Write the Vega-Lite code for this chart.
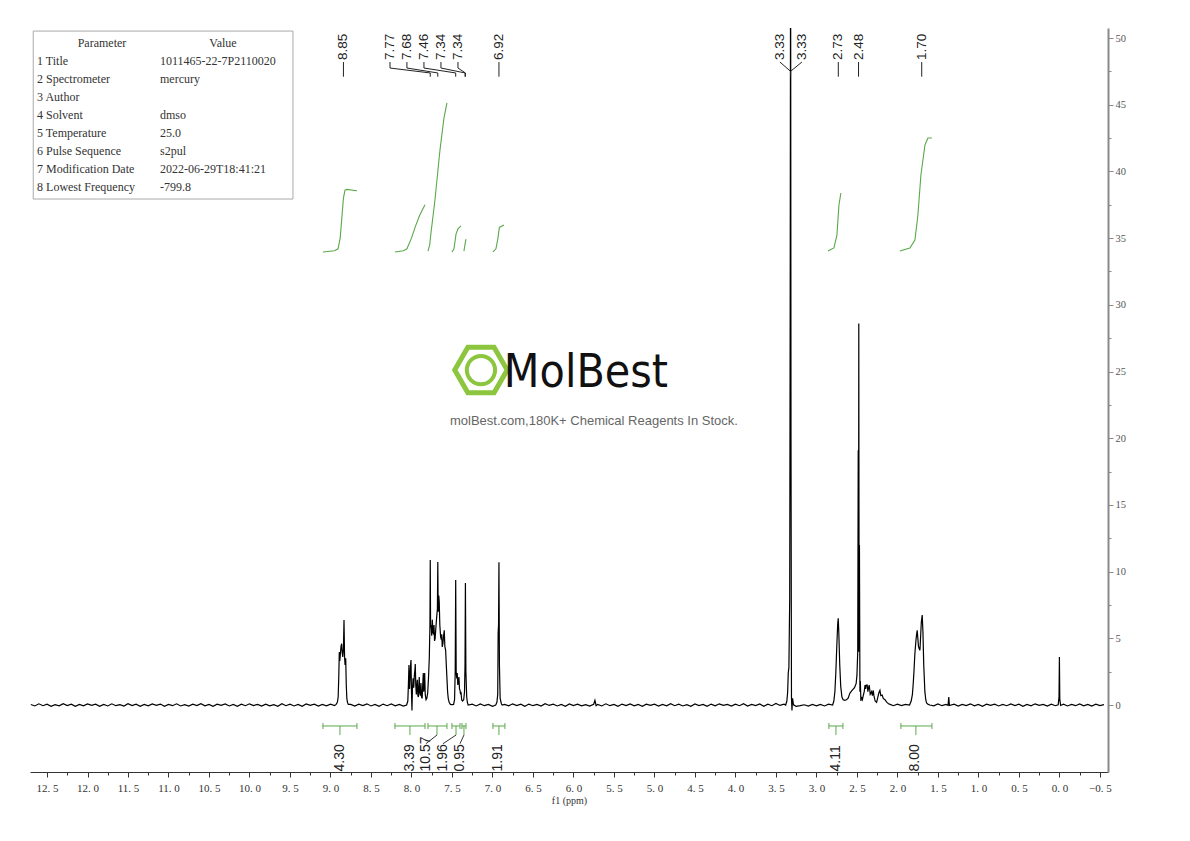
{
"$schema": "https://vega.github.io/schema/vega-lite/v6.json",
"width": 1078, "height": 744,
"autosize": {"type": "none"},
"padding": {"left": 30, "top": 28, "right": 82, "bottom": 69},
"background": "white",
"config": {"view": {"stroke": null}},
"datasets": {
"spec": [
{"x":12.70,"y":0.04},{"x":12.65,"y":-0.07},{"x":12.60,"y":0.09},{"x":12.55,"y":-0.05},{"x":12.50,"y":0.06},{"x":12.45,"y":-0.1},{"x":12.40,"y":0.03},{"x":12.35,"y":-0.06},{"x":12.30,"y":0.1},{"x":12.25,"y":-0.04},{"x":12.20,"y":0.07},{"x":12.15,"y":-0.09},{"x":12.10,"y":0.05},{"x":12.05,"y":-0.06},{"x":12.00,"y":0.08},{"x":11.95,"y":-0.03},{"x":11.90,"y":0.06},{"x":11.85,"y":-0.1},{"x":11.80,"y":0.04},{"x":11.75,"y":-0.07},{"x":11.70,"y":0.09},{"x":11.65,"y":-0.05},{"x":11.60,"y":0.03},{"x":11.55,"y":-0.08},{"x":11.50,"y":0.1},{"x":11.45,"y":-0.04},{"x":11.40,"y":0.06},{"x":11.35,"y":-0.09},{"x":11.30,"y":0.05},{"x":11.25,"y":-0.06},{"x":11.20,"y":0.08},{"x":11.15,"y":-0.02},{"x":11.10,"y":0.07},{"x":11.05,"y":-0.1},{"x":11.00,"y":0.04},{"x":10.95,"y":-0.05},{"x":10.90,"y":0.09},{"x":10.85,"y":-0.07},{"x":10.80,"y":0.03},{"x":10.75,"y":-0.08},{"x":10.70,"y":0.06},{"x":10.65,"y":-0.04},{"x":10.60,"y":0.1},{"x":10.55,"y":-0.06},{"x":10.50,"y":0.05},{"x":10.45,"y":-0.09},{"x":10.40,"y":0.07},{"x":10.35,"y":-0.03},{"x":10.30,"y":0.08},{"x":10.25,"y":-0.07},{"x":10.20,"y":0.04},{"x":10.15,"y":-0.1},{"x":10.10,"y":0.06},{"x":10.05,"y":-0.05},{"x":10.00,"y":0.09},{"x":9.95,"y":-0.04},{"x":9.90,"y":0.05},{"x":9.85,"y":-0.08},{"x":9.80,"y":0.07},{"x":9.75,"y":-0.06},{"x":9.70,"y":0.03},{"x":9.65,"y":-0.09},{"x":9.60,"y":0.1},{"x":9.55,"y":-0.05},{"x":9.50,"y":0.06},{"x":9.45,"y":-0.07},{"x":9.40,"y":0.04},{"x":9.35,"y":-0.1},{"x":9.30,"y":0.08},{"x":9.25,"y":-0.03},{"x":9.20,"y":0.06},{"x":9.15,"y":-0.08},{"x":9.10,"y":0.05},{"x":9.05,"y":-0.06},{"x":9.00,"y":0.07},{"x":8.95,"y":-0.04},
{"x":8.93,"y":0.05},{"x":8.915,"y":0.2},{"x":8.905,"y":0.6},{"x":8.898,"y":2.0},{"x":8.891,"y":3.97},{"x":8.885,"y":3.3},{"x":8.878,"y":3.8},{"x":8.870,"y":4.4},{"x":8.862,"y":4.6},{"x":8.855,"y":3.9},{"x":8.848,"y":3.6},{"x":8.840,"y":4.2},{"x":8.833,"y":6.37},{"x":8.826,"y":3.6},{"x":8.820,"y":3.0},{"x":8.812,"y":3.5},{"x":8.805,"y":1.5},{"x":8.798,"y":0.5},{"x":8.79,"y":0.2},{"x":8.78,"y":0.05},
{"x":8.75,"y":0.05},{"x":8.70,"y":-0.08},{"x":8.65,"y":0.06},{"x":8.60,"y":-0.04},{"x":8.55,"y":0.09},{"x":8.50,"y":-0.07},{"x":8.45,"y":0.04},{"x":8.40,"y":-0.1},{"x":8.35,"y":0.07},{"x":8.30,"y":-0.05},{"x":8.25,"y":0.08},{"x":8.20,"y":-0.06},{"x":8.15,"y":0.05},{"x":8.10,"y":-0.08},
{"x":8.06,"y":0.0},{"x":8.045,"y":0.3},{"x":8.038,"y":1.5},{"x":8.031,"y":3.0},{"x":8.024,"y":1.2},{"x":8.018,"y":2.0},{"x":8.010,"y":3.1},{"x":8.006,"y":3.37},{"x":8.000,"y":1.0},{"x":7.994,"y":-0.4},{"x":7.988,"y":1.2},{"x":7.980,"y":2.0},{"x":7.972,"y":1.3},{"x":7.965,"y":2.2},{"x":7.958,"y":2.6},{"x":7.953,"y":3.07},{"x":7.947,"y":1.5},{"x":7.940,"y":0.8},{"x":7.934,"y":1.4},{"x":7.928,"y":1.9},{"x":7.921,"y":0.7},{"x":7.915,"y":0.6},{"x":7.909,"y":1.5},{"x":7.904,"y":2.1},{"x":7.898,"y":0.9},{"x":7.890,"y":0.7},{"x":7.883,"y":1.65},{"x":7.876,"y":0.6},{"x":7.868,"y":0.5},{"x":7.861,"y":1.5},{"x":7.854,"y":2.4},{"x":7.848,"y":1.0},{"x":7.842,"y":1.8},{"x":7.837,"y":2.4},{"x":7.830,"y":0.8},{"x":7.820,"y":0.4},{"x":7.810,"y":0.5},{"x":7.800,"y":0.9},{"x":7.790,"y":2.0},{"x":7.780,"y":3.5},{"x":7.772,"y":6.0},{"x":7.768,"y":10.87},{"x":7.764,"y":5.8},{"x":7.757,"y":6.0},{"x":7.750,"y":5.2},{"x":7.743,"y":6.4},{"x":7.735,"y":5.5},{"x":7.728,"y":5.3},{"x":7.722,"y":6.0},{"x":7.715,"y":4.8},{"x":7.708,"y":5.0},{"x":7.698,"y":5.85},{"x":7.690,"y":6.5},{"x":7.680,"y":7.2},{"x":7.675,"y":10.72},{"x":7.670,"y":7.0},{"x":7.663,"y":8.2},{"x":7.657,"y":7.7},{"x":7.650,"y":6.0},{"x":7.640,"y":5.1},{"x":7.632,"y":4.9},{"x":7.626,"y":5.3},{"x":7.620,"y":4.35},{"x":7.612,"y":4.6},{"x":7.603,"y":5.2},{"x":7.595,"y":5.6},{"x":7.588,"y":4.4},{"x":7.578,"y":4.1},{"x":7.570,"y":3.0},{"x":7.562,"y":2.0},{"x":7.554,"y":1.0},{"x":7.546,"y":0.5},{"x":7.535,"y":0.2},{"x":7.52,"y":0.05},
{"x":7.50,"y":0.03},
{"x":7.48,"y":0.05},{"x":7.468,"y":0.4},{"x":7.460,"y":2.5},{"x":7.454,"y":9.37},{"x":7.448,"y":2.5},{"x":7.441,"y":2.0},{"x":7.435,"y":2.4},{"x":7.428,"y":1.5},{"x":7.420,"y":1.8},{"x":7.414,"y":2.1},{"x":7.407,"y":1.2},{"x":7.400,"y":1.1},{"x":7.394,"y":0.8},{"x":7.389,"y":1.0},{"x":7.380,"y":0.4},{"x":7.370,"y":0.3},{"x":7.355,"y":0.4},{"x":7.345,"y":1.0},{"x":7.339,"y":3.0},{"x":7.334,"y":9.15},{"x":7.328,"y":2.5},{"x":7.318,"y":0.6},{"x":7.31,"y":0.2},{"x":7.30,"y":0.0},
{"x":7.25,"y":0.06},{"x":7.20,"y":-0.07},{"x":7.15,"y":0.08},{"x":7.10,"y":-0.05},{"x":7.05,"y":0.04},{"x":7.00,"y":-0.09},
{"x":6.96,"y":0.0},{"x":6.945,"y":0.2},{"x":6.935,"y":0.8},{"x":6.930,"y":5.4},{"x":6.925,"y":6.0},{"x":6.920,"y":10.7},{"x":6.914,"y":3.0},{"x":6.905,"y":0.5},{"x":6.89,"y":0.1},{"x":6.88,"y":0.0},
{"x":6.85,"y":0.05},{"x":6.80,"y":-0.06},{"x":6.75,"y":0.09},{"x":6.70,"y":-0.04},{"x":6.65,"y":0.06},{"x":6.60,"y":-0.1},{"x":6.55,"y":0.07},{"x":6.50,"y":-0.05},{"x":6.45,"y":0.04},{"x":6.40,"y":-0.08},{"x":6.35,"y":0.1},{"x":6.30,"y":-0.03},{"x":6.25,"y":0.06},{"x":6.20,"y":-0.07},{"x":6.15,"y":0.05},{"x":6.10,"y":-0.09},{"x":6.05,"y":0.08},{"x":6.00,"y":-0.04},{"x":5.95,"y":0.07},{"x":5.90,"y":-0.06},{"x":5.85,"y":0.03},{"x":5.80,"y":-0.08},{"x":5.75,"y":0.06},{"x":5.735,"y":0.35},{"x":5.72,"y":-0.05},{"x":5.70,"y":0.05},{"x":5.65,"y":-0.07},{"x":5.60,"y":0.09},{"x":5.55,"y":-0.05},{"x":5.50,"y":0.04},{"x":5.45,"y":-0.1},{"x":5.40,"y":0.07},{"x":5.35,"y":-0.04},{"x":5.30,"y":0.08},{"x":5.25,"y":-0.06},{"x":5.20,"y":0.05},{"x":5.15,"y":-0.09},{"x":5.10,"y":0.06},{"x":5.05,"y":-0.03},{"x":5.00,"y":0.07},{"x":4.95,"y":-0.08},{"x":4.90,"y":0.04},{"x":4.85,"y":-0.06},{"x":4.80,"y":0.1},{"x":4.75,"y":-0.05},{"x":4.70,"y":0.06},{"x":4.65,"y":-0.07},{"x":4.60,"y":0.03},{"x":4.55,"y":-0.09},{"x":4.50,"y":0.08},{"x":4.45,"y":-0.04},{"x":4.40,"y":0.05},{"x":4.35,"y":-0.1},{"x":4.30,"y":0.07},{"x":4.25,"y":-0.06},{"x":4.20,"y":0.09},{"x":4.15,"y":-0.03},{"x":4.10,"y":0.04},{"x":4.05,"y":-0.08},{"x":4.00,"y":0.06},{"x":3.95,"y":-0.05},{"x":3.90,"y":0.1},{"x":3.85,"y":-0.07},{"x":3.80,"y":0.05},{"x":3.75,"y":-0.04},{"x":3.70,"y":0.08},{"x":3.65,"y":-0.09},{"x":3.60,"y":0.06},{"x":3.55,"y":-0.05},{"x":3.50,"y":0.12},{"x":3.45,"y":-0.03},{"x":3.40,"y":0.06},
{"x":3.38,"y":0.0},{"x":3.365,"y":0.3},{"x":3.355,"y":1.0},{"x":3.348,"y":2.4},{"x":3.340,"y":2.8},{"x":3.330,"y":8},{"x":3.324,"y":30},{"x":3.319,"y":60},{"x":3.314,"y":20},{"x":3.308,"y":0.5},{"x":3.302,"y":-0.4},{"x":3.295,"y":0.5},{"x":3.285,"y":0.1},{"x":3.28,"y":0.0},
{"x":3.25,"y":-0.1},{"x":3.20,"y":-0.05},{"x":3.15,"y":0.02},{"x":3.10,"y":-0.08},{"x":3.05,"y":0.04},{"x":3.00,"y":-0.06},{"x":2.95,"y":0.05},{"x":2.90,"y":-0.07},{"x":2.85,"y":0.06},
{"x":2.80,"y":0.0},{"x":2.785,"y":0.3},{"x":2.772,"y":1.0},{"x":2.760,"y":2.5},{"x":2.748,"y":4.5},{"x":2.738,"y":6.0},{"x":2.731,"y":6.5},{"x":2.724,"y":5.5},{"x":2.712,"y":3.0},{"x":2.700,"y":1.4},{"x":2.685,"y":0.6},{"x":2.670,"y":0.4},{"x":2.650,"y":0.35},{"x":2.630,"y":0.4},{"x":2.610,"y":0.5},{"x":2.586,"y":0.9},{"x":2.560,"y":1.1},{"x":2.530,"y":1.3},{"x":2.510,"y":1.6},{"x":2.500,"y":2.2},{"x":2.490,"y":4.0},{"x":2.484,"y":19.1},{"x":2.480,"y":4.0},{"x":2.477,"y":28.6},{"x":2.473,"y":5},{"x":2.469,"y":12},{"x":2.463,"y":1.0},{"x":2.458,"y":1.8},{"x":2.451,"y":0.3},{"x":2.445,"y":0.6},{"x":2.432,"y":0.4},{"x":2.422,"y":0.7},{"x":2.410,"y":1.0},{"x":2.400,"y":1.5},{"x":2.392,"y":1.2},{"x":2.385,"y":1.5},{"x":2.373,"y":1.5},{"x":2.365,"y":1.0},{"x":2.356,"y":1.3},{"x":2.348,"y":1.5},{"x":2.336,"y":0.8},{"x":2.327,"y":0.9},{"x":2.319,"y":1.0},{"x":2.309,"y":0.7},{"x":2.299,"y":1.1},{"x":2.290,"y":0.7},{"x":2.275,"y":0.3},{"x":2.257,"y":0.2},{"x":2.245,"y":0.5},{"x":2.230,"y":0.9},{"x":2.216,"y":1.1},{"x":2.205,"y":0.7},{"x":2.188,"y":0.75},{"x":2.175,"y":0.5},{"x":2.154,"y":0.4},{"x":2.130,"y":0.2},{"x":2.110,"y":0.1},{"x":2.09,"y":0.05},
{"x":2.05,"y":-0.05},{"x":2.00,"y":0.07},{"x":1.95,"y":-0.04},{"x":1.90,"y":0.05},
{"x":1.85,"y":0.0},{"x":1.830,"y":0.3},{"x":1.815,"y":0.8},{"x":1.805,"y":1.6},{"x":1.795,"y":2.6},{"x":1.785,"y":3.8},{"x":1.772,"y":4.8},{"x":1.765,"y":5.2},{"x":1.756,"y":5.6},{"x":1.748,"y":5.0},{"x":1.740,"y":4.4},{"x":1.730,"y":4.2},{"x":1.722,"y":4.1},{"x":1.713,"y":5.2},{"x":1.705,"y":6.2},{"x":1.694,"y":6.75},{"x":1.685,"y":5.5},{"x":1.675,"y":3.0},{"x":1.661,"y":1.0},{"x":1.650,"y":0.4},{"x":1.640,"y":0.15},{"x":1.62,"y":0.05},{"x":1.60,"y":0.0},
{"x":1.55,"y":-0.06},{"x":1.50,"y":0.08},{"x":1.45,"y":-0.05},{"x":1.40,"y":0.04},{"x":1.375,"y":-0.02},{"x":1.366,"y":0.6},{"x":1.358,"y":-0.04},{"x":1.30,"y":0.06},{"x":1.25,"y":-0.08},{"x":1.20,"y":0.05},{"x":1.15,"y":-0.04},{"x":1.10,"y":0.09},{"x":1.05,"y":-0.06},{"x":1.00,"y":0.04},{"x":0.95,"y":-0.09},{"x":0.90,"y":0.07},{"x":0.85,"y":-0.03},{"x":0.80,"y":0.06},{"x":0.75,"y":-0.07},{"x":0.70,"y":0.05},{"x":0.65,"y":-0.05},{"x":0.60,"y":0.08},{"x":0.55,"y":-0.04},{"x":0.50,"y":0.06},{"x":0.45,"y":-0.1},{"x":0.40,"y":0.05},{"x":0.35,"y":-0.06},{"x":0.30,"y":0.09},{"x":0.25,"y":-0.03},{"x":0.20,"y":0.04},{"x":0.15,"y":-0.08},{"x":0.10,"y":0.06},{"x":0.05,"y":-0.05},
{"x":0.015,"y":0.02},{"x":0.005,"y":0.6},{"x":0.0,"y":3.6},{"x":-0.005,"y":0.4},{"x":-0.015,"y":-0.03},
{"x":-0.05,"y":0.06},{"x":-0.10,"y":-0.07},{"x":-0.15,"y":0.04},{"x":-0.20,"y":-0.05},{"x":-0.25,"y":0.08},{"x":-0.30,"y":-0.06},{"x":-0.35,"y":0.05},{"x":-0.40,"y":-0.08},{"x":-0.45,"y":0.06},{"x":-0.50,"y":-0.04},{"x":-0.55,"y":0.03}
],
"integ": [
{"x":9.093,"y":33.96,"s":"a"},{"x":8.95,"y":34.05,"s":"a"},{"x":8.907,"y":34.2,"s":"a"},{"x":8.88,"y":35.0,"s":"a"},{"x":8.86,"y":36.5,"s":"a"},{"x":8.84,"y":38.0,"s":"a"},{"x":8.821,"y":38.6,"s":"a"},{"x":8.80,"y":38.65,"s":"a"},{"x":8.673,"y":38.55,"s":"a"},
{"x":8.204,"y":33.96,"s":"b"},{"x":8.10,"y":34.05,"s":"b"},{"x":8.056,"y":34.2,"s":"b"},{"x":8.0,"y":35.0,"s":"b"},{"x":7.95,"y":35.9,"s":"b"},{"x":7.90,"y":36.7,"s":"b"},{"x":7.833,"y":37.5,"s":"b"},
{"x":7.796,"y":34.03,"s":"c"},{"x":7.775,"y":34.5,"s":"c"},{"x":7.759,"y":35.4,"s":"c"},{"x":7.71,"y":37.86,"s":"c"},{"x":7.648,"y":41.6,"s":"c"},{"x":7.599,"y":44.0,"s":"c"},{"x":7.562,"y":45.13,"s":"c"},
{"x":7.5,"y":33.96,"s":"d"},{"x":7.475,"y":34.2,"s":"d"},{"x":7.45,"y":35.3,"s":"d"},{"x":7.426,"y":35.7,"s":"d"},{"x":7.389,"y":35.91,"s":"d"},
{"x":7.352,"y":34.03,"s":"e"},{"x":7.34,"y":34.5,"s":"e"},{"x":7.327,"y":34.93,"s":"e"},
{"x":6.994,"y":33.96,"s":"f"},{"x":6.957,"y":34.2,"s":"f"},{"x":6.932,"y":35.0,"s":"f"},{"x":6.915,"y":35.8,"s":"f"},{"x":6.858,"y":35.98,"s":"f"},
{"x":2.858,"y":34.03,"s":"g"},{"x":2.784,"y":34.26,"s":"g"},{"x":2.747,"y":35.23,"s":"g"},{"x":2.722,"y":37.48,"s":"g"},{"x":2.698,"y":38.38,"s":"g"},
{"x":1.969,"y":34.03,"s":"h"},{"x":1.846,"y":34.26,"s":"h"},{"x":1.784,"y":34.86,"s":"h"},{"x":1.747,"y":36.73,"s":"h"},{"x":1.710,"y":39.73,"s":"h"},{"x":1.660,"y":41.98,"s":"h"},{"x":1.623,"y":42.5,"s":"h"},{"x":1.574,"y":42.5,"s":"h"}
],
"brk": [
{"x":9.093,"y":-1.57,"x2":8.673,"y2":-1.57},{"x":9.093,"y":-1.35,"x2":9.093,"y2":-1.8},{"x":8.673,"y":-1.35,"x2":8.673,"y2":-1.8},{"x":8.883,"y":-1.57,"x2":8.883,"y2":-2.25},
{"x":8.204,"y":-1.57,"x2":7.833,"y2":-1.57},{"x":8.204,"y":-1.35,"x2":8.204,"y2":-1.8},{"x":7.833,"y":-1.35,"x2":7.833,"y2":-1.8},{"x":8.019,"y":-1.57,"x2":8.019,"y2":-2.25},
{"x":7.796,"y":-1.57,"x2":7.562,"y2":-1.57},{"x":7.796,"y":-1.35,"x2":7.796,"y2":-1.8},{"x":7.562,"y":-1.35,"x2":7.562,"y2":-1.8},{"x":7.685,"y":-1.57,"x2":7.685,"y2":-2.25},
{"x":7.5,"y":-1.57,"x2":7.401,"y2":-1.57},{"x":7.5,"y":-1.35,"x2":7.5,"y2":-1.8},{"x":7.401,"y":-1.35,"x2":7.401,"y2":-1.8},{"x":7.45,"y":-1.57,"x2":7.45,"y2":-2.25},
{"x":7.377,"y":-1.57,"x2":7.327,"y2":-1.57},{"x":7.377,"y":-1.35,"x2":7.377,"y2":-1.8},{"x":7.327,"y":-1.35,"x2":7.327,"y2":-1.8},{"x":7.352,"y":-1.57,"x2":7.352,"y2":-2.25},
{"x":6.994,"y":-1.57,"x2":6.846,"y2":-1.57},{"x":6.994,"y":-1.35,"x2":6.994,"y2":-1.8},{"x":6.846,"y":-1.35,"x2":6.846,"y2":-1.8},{"x":6.92,"y":-1.57,"x2":6.92,"y2":-2.25},
{"x":2.846,"y":-1.57,"x2":2.673,"y2":-1.57},{"x":2.846,"y":-1.35,"x2":2.846,"y2":-1.8},{"x":2.673,"y":-1.35,"x2":2.673,"y2":-1.8},{"x":2.759,"y":-1.57,"x2":2.759,"y2":-2.25},
{"x":1.957,"y":-1.57,"x2":1.574,"y2":-1.57},{"x":1.957,"y":-1.35,"x2":1.957,"y2":-1.8},{"x":1.574,"y":-1.35,"x2":1.574,"y2":-1.8},{"x":1.772,"y":-1.57,"x2":1.772,"y2":-2.25}
],
"ileg": [
{"x":7.685,"y":-2.25,"x2":7.821,"y2":-2.9},{"x":7.45,"y":-2.25,"x2":7.611,"y2":-2.9},{"x":7.352,"y":-2.25,"x2":7.401,"y2":-2.9}
],
"ilab": [
{"x":8.88,"y":-4.98,"t":"4.30"},{"x":8.019,"y":-4.98,"t":"3.39"},{"x":7.821,"y":-4.98,"t":"10.57"},{"x":7.611,"y":-4.98,"t":"1.96"},{"x":7.401,"y":-4.98,"t":"0.95"},{"x":6.935,"y":-4.98,"t":"1.91"},{"x":2.759,"y":-4.98,"t":"4.11"},{"x":1.78,"y":-4.98,"t":"8.00"}
],
"pleg": [
{"x":8.84,"y":48.2,"x2":8.84,"y2":47.1},
{"x":8.265,"y":48.2,"x2":8.265,"y2":47.75},{"x":8.265,"y":47.75,"x2":7.768,"y2":47.38},{"x":7.768,"y":47.38,"x2":7.768,"y2":47.1},
{"x":8.056,"y":48.2,"x2":8.056,"y2":47.75},{"x":8.056,"y":47.75,"x2":7.675,"y2":47.38},{"x":7.675,"y":47.38,"x2":7.675,"y2":47.1},
{"x":7.846,"y":48.2,"x2":7.846,"y2":47.75},{"x":7.846,"y":47.75,"x2":7.454,"y2":47.38},{"x":7.454,"y":47.38,"x2":7.454,"y2":47.1},
{"x":7.636,"y":48.2,"x2":7.636,"y2":47.75},{"x":7.636,"y":47.75,"x2":7.338,"y2":47.38},{"x":7.338,"y":47.38,"x2":7.338,"y2":47.1},
{"x":7.426,"y":48.2,"x2":7.426,"y2":47.75},{"x":7.426,"y":47.75,"x2":7.334,"y2":47.38},{"x":7.334,"y":47.38,"x2":7.334,"y2":47.1},
{"x":6.92,"y":48.2,"x2":6.92,"y2":47.1},
{"x":3.451,"y":48.2,"x2":3.319,"y2":47.5},{"x":3.179,"y":48.2,"x2":3.319,"y2":47.5},{"x":3.319,"y":47.5,"x2":3.319,"y2":47.1},
{"x":2.73,"y":48.2,"x2":2.73,"y2":47.1},{"x":2.48,"y":48.2,"x2":2.48,"y2":47.1},{"x":1.70,"y":48.2,"x2":1.70,"y2":47.1}
],
"plab": [
{"x":8.84,"y":48.35,"t":"8.85"},{"x":8.265,"y":48.35,"t":"7.77"},{"x":8.056,"y":48.35,"t":"7.68"},{"x":7.846,"y":48.35,"t":"7.46"},{"x":7.636,"y":48.35,"t":"7.34"},{"x":7.426,"y":48.35,"t":"7.34"},{"x":6.92,"y":48.35,"t":"6.92"},{"x":3.451,"y":48.35,"t":"3.33"},{"x":3.179,"y":48.35,"t":"3.33"},{"x":2.73,"y":48.35,"t":"2.73"},{"x":2.48,"y":48.35,"t":"2.48"},{"x":1.70,"y":48.35,"t":"1.70"}
],
"tbox": [{"x":12.67,"y":50.52,"x2":9.463,"y2":37.93}],
"thead": [{"x":11.821,"y":49.63,"t":"Parameter"},{"x":10.327,"y":49.63,"t":"Value"}],
"trows": [
{"x":12.623,"y":48.28,"t":"1 Title"},{"x":11.105,"y":48.28,"t":"1011465-22-7P2110020"},
{"x":12.623,"y":46.93,"t":"2 Spectrometer"},{"x":11.105,"y":46.93,"t":"mercury"},
{"x":12.623,"y":45.58,"t":"3 Author"},
{"x":12.623,"y":44.23,"t":"4 Solvent"},{"x":11.105,"y":44.23,"t":"dmso"},
{"x":12.623,"y":42.88,"t":"5 Temperature"},{"x":11.105,"y":42.88,"t":"25.0"},
{"x":12.623,"y":41.53,"t":"6 Pulse Sequence"},{"x":11.105,"y":41.53,"t":"s2pul"},
{"x":12.623,"y":40.18,"t":"7 Modification Date"},{"x":11.105,"y":40.18,"t":"2022-06-29T18:41:21"},
{"x":12.623,"y":38.83,"t":"8 Lowest Frequency"},{"x":11.105,"y":38.83,"t":"-799.8"}
],
"logo": [{"x":7.142,"y":25.11}],
"wm": [{"x":5.846,"y":24.9,"t":"MolBest"}],
"wm2": [{"x":5.747,"y":21.29,"t":"molBest.com,180K+ Chemical Reagents In Stock."}]
},
"encoding": {
"x": {"field": "x", "type": "quantitative",
 "scale": {"domain": [-0.6, 12.71], "reverse": true, "nice": false, "zero": false},
 "axis": {"orient": "bottom", "grid": false,
  "values": [12.5,12.25,12,11.75,11.5,11.25,11,10.75,10.5,10.25,10,9.75,9.5,9.25,9,8.75,8.5,8.25,8,7.75,7.5,7.25,7,6.75,6.5,6.25,6,5.75,5.5,5.25,5,4.75,4.5,4.25,4,3.75,3.5,3.25,3,2.75,2.5,2.25,2,1.75,1.5,1.25,1,0.75,0.5,0.25,0,-0.25,-0.5],
  "labelExpr": "abs(datum.value*2-round(datum.value*2))<0.01 ? replace(format(datum.value,'.1f'),'.','. ') : ''",
  "tickSize": {"condition": {"test": "abs(datum.value*2-round(datum.value*2))<0.01", "value": 5}, "value": 3},
  "labelOverlap": false, "labelFlush": false, "labelBound": false,
  "labelFont": "Liberation Serif", "labelFontSize": 11, "labelColor": "#333", "labelPadding": 5,
  "domainColor": "#333", "tickColor": "#333",
  "title": "f1 (ppm)", "titleFont": "Liberation Serif", "titleFontSize": 10, "titleFontWeight": "normal", "titleColor": "#333", "titlePadding": 2}},
"y": {"field": "y", "type": "quantitative",
 "scale": {"domain": [-5.02, 50.75], "nice": false, "zero": false},
 "axis": {"orient": "right", "grid": false,
  "values": [0,2.5,5,7.5,10,12.5,15,17.5,20,22.5,25,27.5,30,32.5,35,37.5,40,42.5,45,47.5,50],
  "labelExpr": "datum.value % 5 == 0 ? format(datum.value,'d') : ''",
  "tickSize": {"condition": {"test": "datum.value % 5 == 0", "value": 5}, "value": 3},
  "labelOverlap": false, "labelFlush": false, "labelBound": false,
  "labelFont": "Liberation Serif", "labelFontSize": 10.5, "labelColor": "#555", "labelPadding": 2,
  "domainColor": "#8a8a8a", "domainWidth": 2, "tickColor": "#8a8a8a", "title": null}}
},
"layer": [
{"data": {"name": "spec"}, "mark": {"type": "line", "color": "#000", "strokeWidth": 1.2, "clip": true}},
{"data": {"name": "integ"}, "mark": {"type": "line", "color": "#5aa84a", "strokeWidth": 1.1}, "encoding": {"detail": {"field": "s", "type": "nominal"}}},
{"data": {"name": "brk"}, "mark": {"type": "rule", "color": "#5aa84a", "strokeWidth": 1}, "encoding": {"x2": {"field": "x2"}, "y2": {"field": "y2"}}},
{"data": {"name": "ileg"}, "mark": {"type": "rule", "color": "#333", "strokeWidth": 1}, "encoding": {"x2": {"field": "x2"}, "y2": {"field": "y2"}}},
{"data": {"name": "ilab"}, "mark": {"type": "text", "angle": 270, "align": "left", "baseline": "middle", "font": "Liberation Sans", "fontSize": 14, "color": "#222"}, "encoding": {"text": {"field": "t"}}},
{"data": {"name": "pleg"}, "mark": {"type": "rule", "color": "#222", "strokeWidth": 1}, "encoding": {"x2": {"field": "x2"}, "y2": {"field": "y2"}}},
{"data": {"name": "plab"}, "mark": {"type": "text", "angle": 270, "align": "left", "baseline": "middle", "font": "Liberation Sans", "fontSize": 13.5, "color": "#222"}, "encoding": {"text": {"field": "t"}}},
{"data": {"name": "tbox"}, "mark": {"type": "rect", "fillOpacity": 0, "stroke": "#aaa", "strokeWidth": 1}, "encoding": {"x2": {"field": "x2"}, "y2": {"field": "y2"}}},
{"data": {"name": "thead"}, "mark": {"type": "text", "align": "center", "baseline": "middle", "font": "Liberation Serif", "fontSize": 12, "color": "#333"}, "encoding": {"text": {"field": "t"}}},
{"data": {"name": "trows"}, "mark": {"type": "text", "align": "left", "baseline": "middle", "font": "Liberation Serif", "fontSize": 12, "color": "#333"}, "encoding": {"text": {"field": "t"}}},
{"data": {"name": "logo"}, "mark": {"type": "point", "shape": "M-1,0L-0.5,-0.866L0.5,-0.866L1,0L0.5,0.866L-0.5,0.866Z", "size": 2750, "filled": false, "stroke": "#8cc63f", "strokeWidth": 5, "opacity": 1}},
{"data": {"name": "logo"}, "mark": {"type": "point", "shape": "circle", "size": 800, "filled": false, "stroke": "#8cc63f", "strokeWidth": 4, "opacity": 1}},
{"data": {"name": "wm"}, "mark": {"type": "text", "align": "center", "baseline": "middle", "font": "DejaVu Sans Condensed, DejaVu Sans", "fontSize": 46, "color": "#111"}, "encoding": {"text": {"field": "t"}}},
{"data": {"name": "wm2"}, "mark": {"type": "text", "align": "center", "baseline": "middle", "font": "Liberation Sans", "fontSize": 13, "color": "#666"}, "encoding": {"text": {"field": "t"}}}
]
}
